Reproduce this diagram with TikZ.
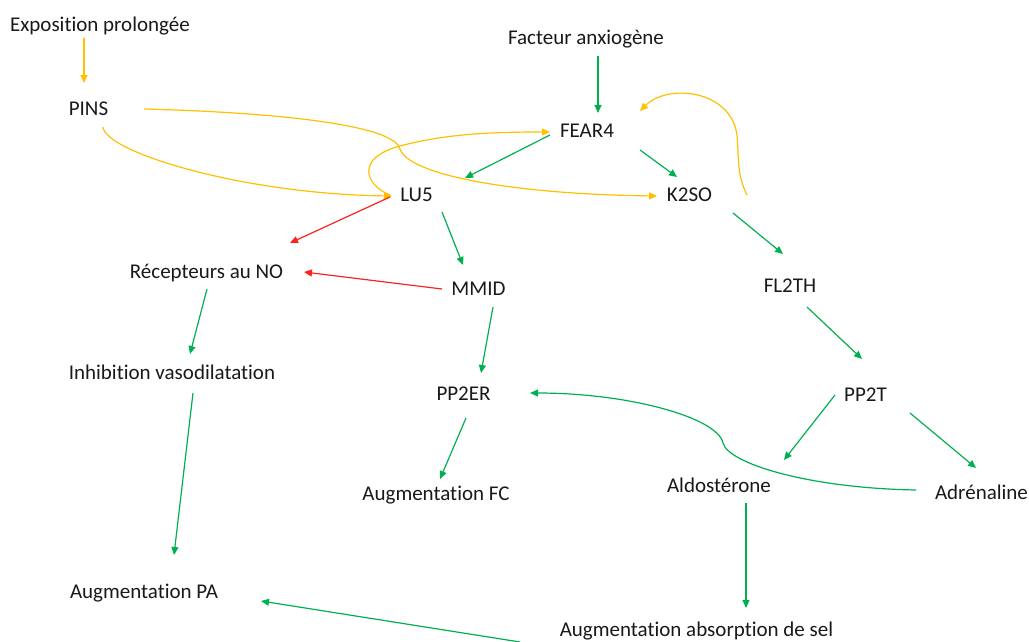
\documentclass[tikz,border=0pt]{standalone}
\usepackage{fontspec}
\setmainfont{Carlito}[Ligatures=NoCommon]
\usetikzlibrary{arrows.meta,calc}
\definecolor{gold}{HTML}{FFC000}
\definecolor{leaf}{HTML}{00B050}
\definecolor{alert}{HTML}{FF2020}
\begin{document}
\begin{tikzpicture}[x=1pt,y=-1pt,
  lbl/.style={anchor=base,inner sep=0pt,font=\fontsize{21}{25}\selectfont,text=black!90},
  link/.style={line width=1.2pt,-{Triangle[length=8pt,width=7pt]}},
  go/.style={link,draw=leaf},
  warm/.style={link,draw=gold},
  stop/.style={link,draw=alert}]
\useasboundingbox (0,0) rectangle (1029,642);

% labels, placed by their baseline
\node[lbl] (exp)    at (100,32)   {Exposition prolongée};
\node[lbl] (pins)   at (88.5,116) {PINS};
\node[lbl] (fac)    at (586,45)   {Facteur anxiogène};
\node[lbl] (fear)   at (587,138)  {FEAR4};
\node[lbl] (lu5)    at (416.5,201){LU5};
\node[lbl] (k2so)   at (689.5,201){K2SO};
\node[lbl] (rec)    at (206.5,278){Récepteurs au NO};
\node[lbl] (mmid)   at (478.5,295){MMID};
\node[lbl] (fl2th)  at (790,292)  {FL2TH};
\node[lbl] (inh)    at (172,379)  {Inhibition vasodilatation};
\node[lbl] (pp2er)  at (463.5,400){PP2ER};
\node[lbl] (pp2t)   at (865.5,401){PP2T};
\node[lbl] (augfc)  at (436,500)  {Augmentation FC};
\node[lbl] (aldo)   at (719,492)  {Aldostérone};
\node[lbl] (adr)    at (981.5,499){Adrénaline};
\node[lbl] (augpa)  at (144,598)  {Augmentation PA};
\node[lbl] (augsel) at (696.5,636){Augmentation absorption de sel};

% orange pathway
\draw[warm] ($(exp.base)+(-16,6)$) -- ($(pins.base)+(-4.5,-33)$);
\draw[warm] ($(pins.base)+(14.5,11)$) .. controls +(2,25) and +(-150,-2) .. ($(lu5.base)+(-24.5,-5)$);
\draw[warm] ($(pins.base)+(55.5,-7)$) .. controls +(150,4) and +(-5,-22) .. (400,149)
            .. controls +(8,25) and +(-150,-2) .. ($(k2so.base)+(-32.5,-5)$);
\draw[warm] ($(lu5.base)+(-26.5,-6)$) .. controls +(-25,-10) and +(-45,12) .. (400,146)
            .. controls +(45,-12) and +(-60,0) .. ($(fear.base)+(-37,-6)$);
\draw[warm] ($(k2so.base)+(57.5,-6)$) .. controls +(-10,-20) and +(2,25) .. (737,135)
            .. controls +(-6,-45) and +(28,-28) .. ($(fear.base)+(53,-27)$);

% green pathway
\draw[go] ($(fac.base)+(12,11)$) -- ($(fear.base)+(11,-25)$);
\draw[go] ($(fear.base)+(-37,-3)$) -- ($(lu5.base)+(48.5,-23)$);
\draw[go] ($(fear.base)+(53,12)$) -- ($(k2so.base)+(-12.5,-24)$);
\draw[go] ($(lu5.base)+(25.5,11)$) -- ($(mmid.base)+(-15.5,-30)$);
\draw[go] ($(rec.base)+(0.5,11)$) -- ($(inh.base)+(18,-25)$);
\draw[go] ($(mmid.base)+(14.5,12)$) -- ($(pp2er.base)+(17.5,-27)$);
\draw[go] ($(inh.base)+(21,14)$) -- ($(augpa.base)+(30,-43)$);
\draw[go] ($(pp2er.base)+(2.5,18)$) -- ($(augfc.base)+(4,-21)$);
\draw[go] ($(k2so.base)+(43.5,12)$) -- ($(fl2th.base)+(-7,-38)$);
\draw[go] ($(fl2th.base)+(17,15)$) -- ($(pp2t.base)+(-3.5,-42)$);
\draw[go] ($(pp2t.base)+(-30.5,-6)$) -- ($(aldo.base)+(65,-32)$);
\draw[go] ($(pp2t.base)+(44.5,12)$) -- ($(adr.base)+(-5.5,-31)$);
\draw[go] ($(adr.base)+(-65.5,-9)$) .. controls +(-110,-2) and +(5,20) .. (723,443)
          .. controls +(-5,-25) and +(100,0) .. ($(pp2er.base)+(66.5,-7)$);
\draw[go] ($(aldo.base)+(27,11)$) -- ($(augsel.base)+(49.5,-28)$);
\draw[go] ($(augsel.base)+(-176.5,6)$) -- ($(augpa.base)+(117,3)$);

% red pathway
\draw[stop] ($(lu5.base)+(-26.5,-4)$) -- ($(rec.base)+(83.5,-35)$);
\draw[stop] ($(mmid.base)+(-36.5,-6)$) -- ($(rec.base)+(97.5,-6)$);
\end{tikzpicture}
\end{document}
